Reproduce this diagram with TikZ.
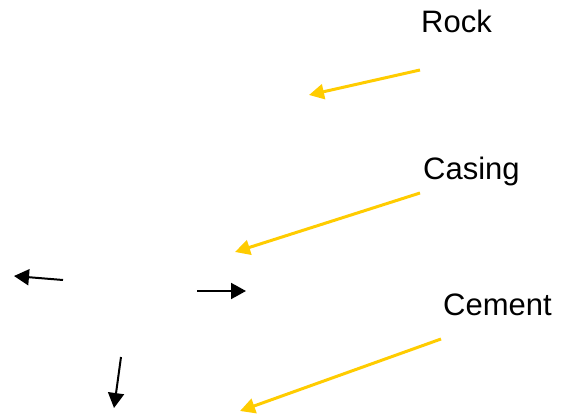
\documentclass[tikz,border=0pt]{standalone}
\usepackage{fontspec}
\setmainfont{Liberation Sans}
\usetikzlibrary{arrows.meta}
\definecolor{ylw}{HTML}{FFCC00}
\begin{document}
\begin{tikzpicture}[x=1pt,y=-1pt,
  lbl/.style={anchor=base west,inner sep=0pt,font=\fontsize{31}{36}\selectfont},
  yarrow/.style={draw=ylw,line width=3pt,-{Triangle[length=15pt,width=15pt]}},
  barrow/.style={draw=black,line width=2pt,-{Triangle[length=15pt,width=16pt]}}]
\useasboundingbox (0,0) rectangle (570,414);
\node[lbl] (rock) at (421,33) {Rock};
\node[lbl] (casing) at (423,180) {Casing};
\node[lbl] (cement) at (443,315) {Cement};
\coordinate (r1) at (420,70);
\coordinate (r2) at (309,95);
\coordinate (c1) at (420,193);
\coordinate (c2) at (235,252);
\coordinate (m1) at (441,339);
\coordinate (m2) at (240,411);
\coordinate (a1) at (63,280);
\coordinate (a2) at (14,276);
\coordinate (b1) at (197,291);
\coordinate (b2) at (246,291);
\coordinate (d1) at (121,357);
\coordinate (d2) at (114,408);
\draw[yarrow] (r1) -- (r2);
\draw[yarrow] (c1) -- (c2);
\draw[yarrow] (m1) -- (m2);
\draw[barrow] (a1) -- (a2);
\draw[barrow] (b1) -- (b2);
\draw[barrow] (d1) -- (d2);
\end{tikzpicture}
\end{document}
